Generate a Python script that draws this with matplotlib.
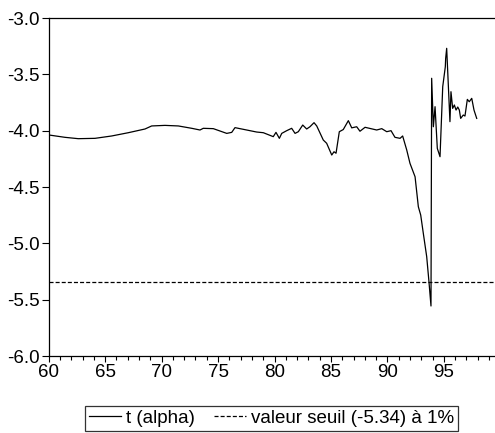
import matplotlib
matplotlib.use("Agg")
import matplotlib.pyplot as plt
from matplotlib.ticker import MultipleLocator, FormatStrFormatter

plt.rcParams['font.family'] = ['Liberation Sans', 'DejaVu Sans']
plt.rcParams['axes.unicode_minus'] = False
plt.rcParams['lines.scale_dashes'] = False

# Series: t (alpha) (year, value)
years = [60.00, 61.44, 62.62, 64.10, 65.58, 67.05, 68.53, 69.12, 70.30, 71.48,
         72.67, 73.40, 73.69, 74.58, 75.77, 76.21, 76.50, 76.94, 77.24, 78.42,
         79.01, 79.89, 80.13, 80.43, 80.64, 81.08, 81.52, 81.82, 82.11, 82.50,
         82.85, 83.14, 83.50, 83.74, 84.32, 84.62, 85.07, 85.27, 85.45, 85.74,
         86.09, 86.54, 86.84, 87.28, 87.57, 88.02, 89.05, 89.50, 89.94, 90.32,
         90.67, 91.12, 91.35, 91.71, 92.00, 92.45, 92.74, 92.95, 93.18, 93.48,
         93.68, 93.86, 93.92, 94.07, 94.22, 94.42, 94.66, 94.90, 95.13, 95.16,
         95.25, 95.54, 95.63, 95.78, 95.93, 96.08, 96.23, 96.37, 96.49, 96.72,
         96.87, 97.08, 97.25, 97.47, 97.67, 97.91]
t_alpha = [-4.038, -4.059, -4.071, -4.068, -4.047, -4.018, -3.985, -3.958, -3.953, -3.958,
           -3.979, -3.994, -3.979, -3.982, -4.024, -4.015, -3.973, -3.982, -3.988, -4.012,
           -4.018, -4.053, -4.015, -4.068, -4.024, -4.000, -3.979, -4.024, -4.009, -3.950,
           -3.985, -3.965, -3.929, -3.958, -4.083, -4.112, -4.216, -4.187, -4.200, -4.009,
           -3.990, -3.911, -3.975, -3.965, -4.005, -3.970, -3.994, -3.982, -4.009, -4.000,
           -4.059, -4.068, -4.047, -4.171, -4.290, -4.409, -4.675, -4.749, -4.911, -5.118,
           -5.340, -5.556, -3.535, -3.965, -3.787, -4.157, -4.231, -3.609, -3.432, -3.358,
           -3.269, -3.920, -3.654, -3.802, -3.772, -3.817, -3.790, -3.817, -3.891, -3.861,
           -3.870, -3.722, -3.743, -3.713, -3.817, -3.891]
threshold = -5.34

x_major = [60, 65, 70, 75, 80, 85, 90, 95]
y_ticks = [-6.0, -5.5, -5.0, -4.5, -4.0, -3.5, -3.0]

fig = plt.figure(figsize=(4.95, 4.33), dpi=100)
ax = fig.add_axes([0.0984, 0.1778, 0.9016, 0.7806])

ax.plot(years, t_alpha, color='black', lw=0.9, label='t (alpha)')
ax.axhline(threshold, color='black', lw=0.9, dashes=(2.9, 1.5),
           label='valeur seuil (-5.34) à 1%')

ax.set_xlim(60, 99.53)
ax.set_ylim(-6.0, -3.0)
ax.set_xticks(x_major)
ax.xaxis.set_minor_locator(MultipleLocator(1))
ax.set_yticks(y_ticks)
ax.yaxis.set_major_formatter(FormatStrFormatter('%.1f'))

ax.spines['right'].set_visible(False)
for s in ['left', 'top', 'bottom']:
    ax.spines[s].set_linewidth(0.9)

ax.tick_params(axis='x', which='major', direction='out', length=4.5, width=0.8,
               labelsize=13.5, pad=1.5)
ax.tick_params(axis='x', which='minor', direction='out', length=3, width=0.8)
ax.tick_params(axis='y', which='major', direction='out', length=5, width=0.8,
               labelsize=13.5, pad=1.5)
ax.tick_params(top=False, right=False, which='both')

leg = fig.legend(loc='center', bbox_to_anchor=(0.5485, 0.0335), ncol=2,
                 fontsize=13.5, frameon=True, fancybox=False, edgecolor='black',
                 handlelength=1.7, handletextpad=0.3, columnspacing=1.0,
                 borderpad=0.2, borderaxespad=0)
leg.get_frame().set_linewidth(0.9)

fig.savefig('out.png', dpi=100)
